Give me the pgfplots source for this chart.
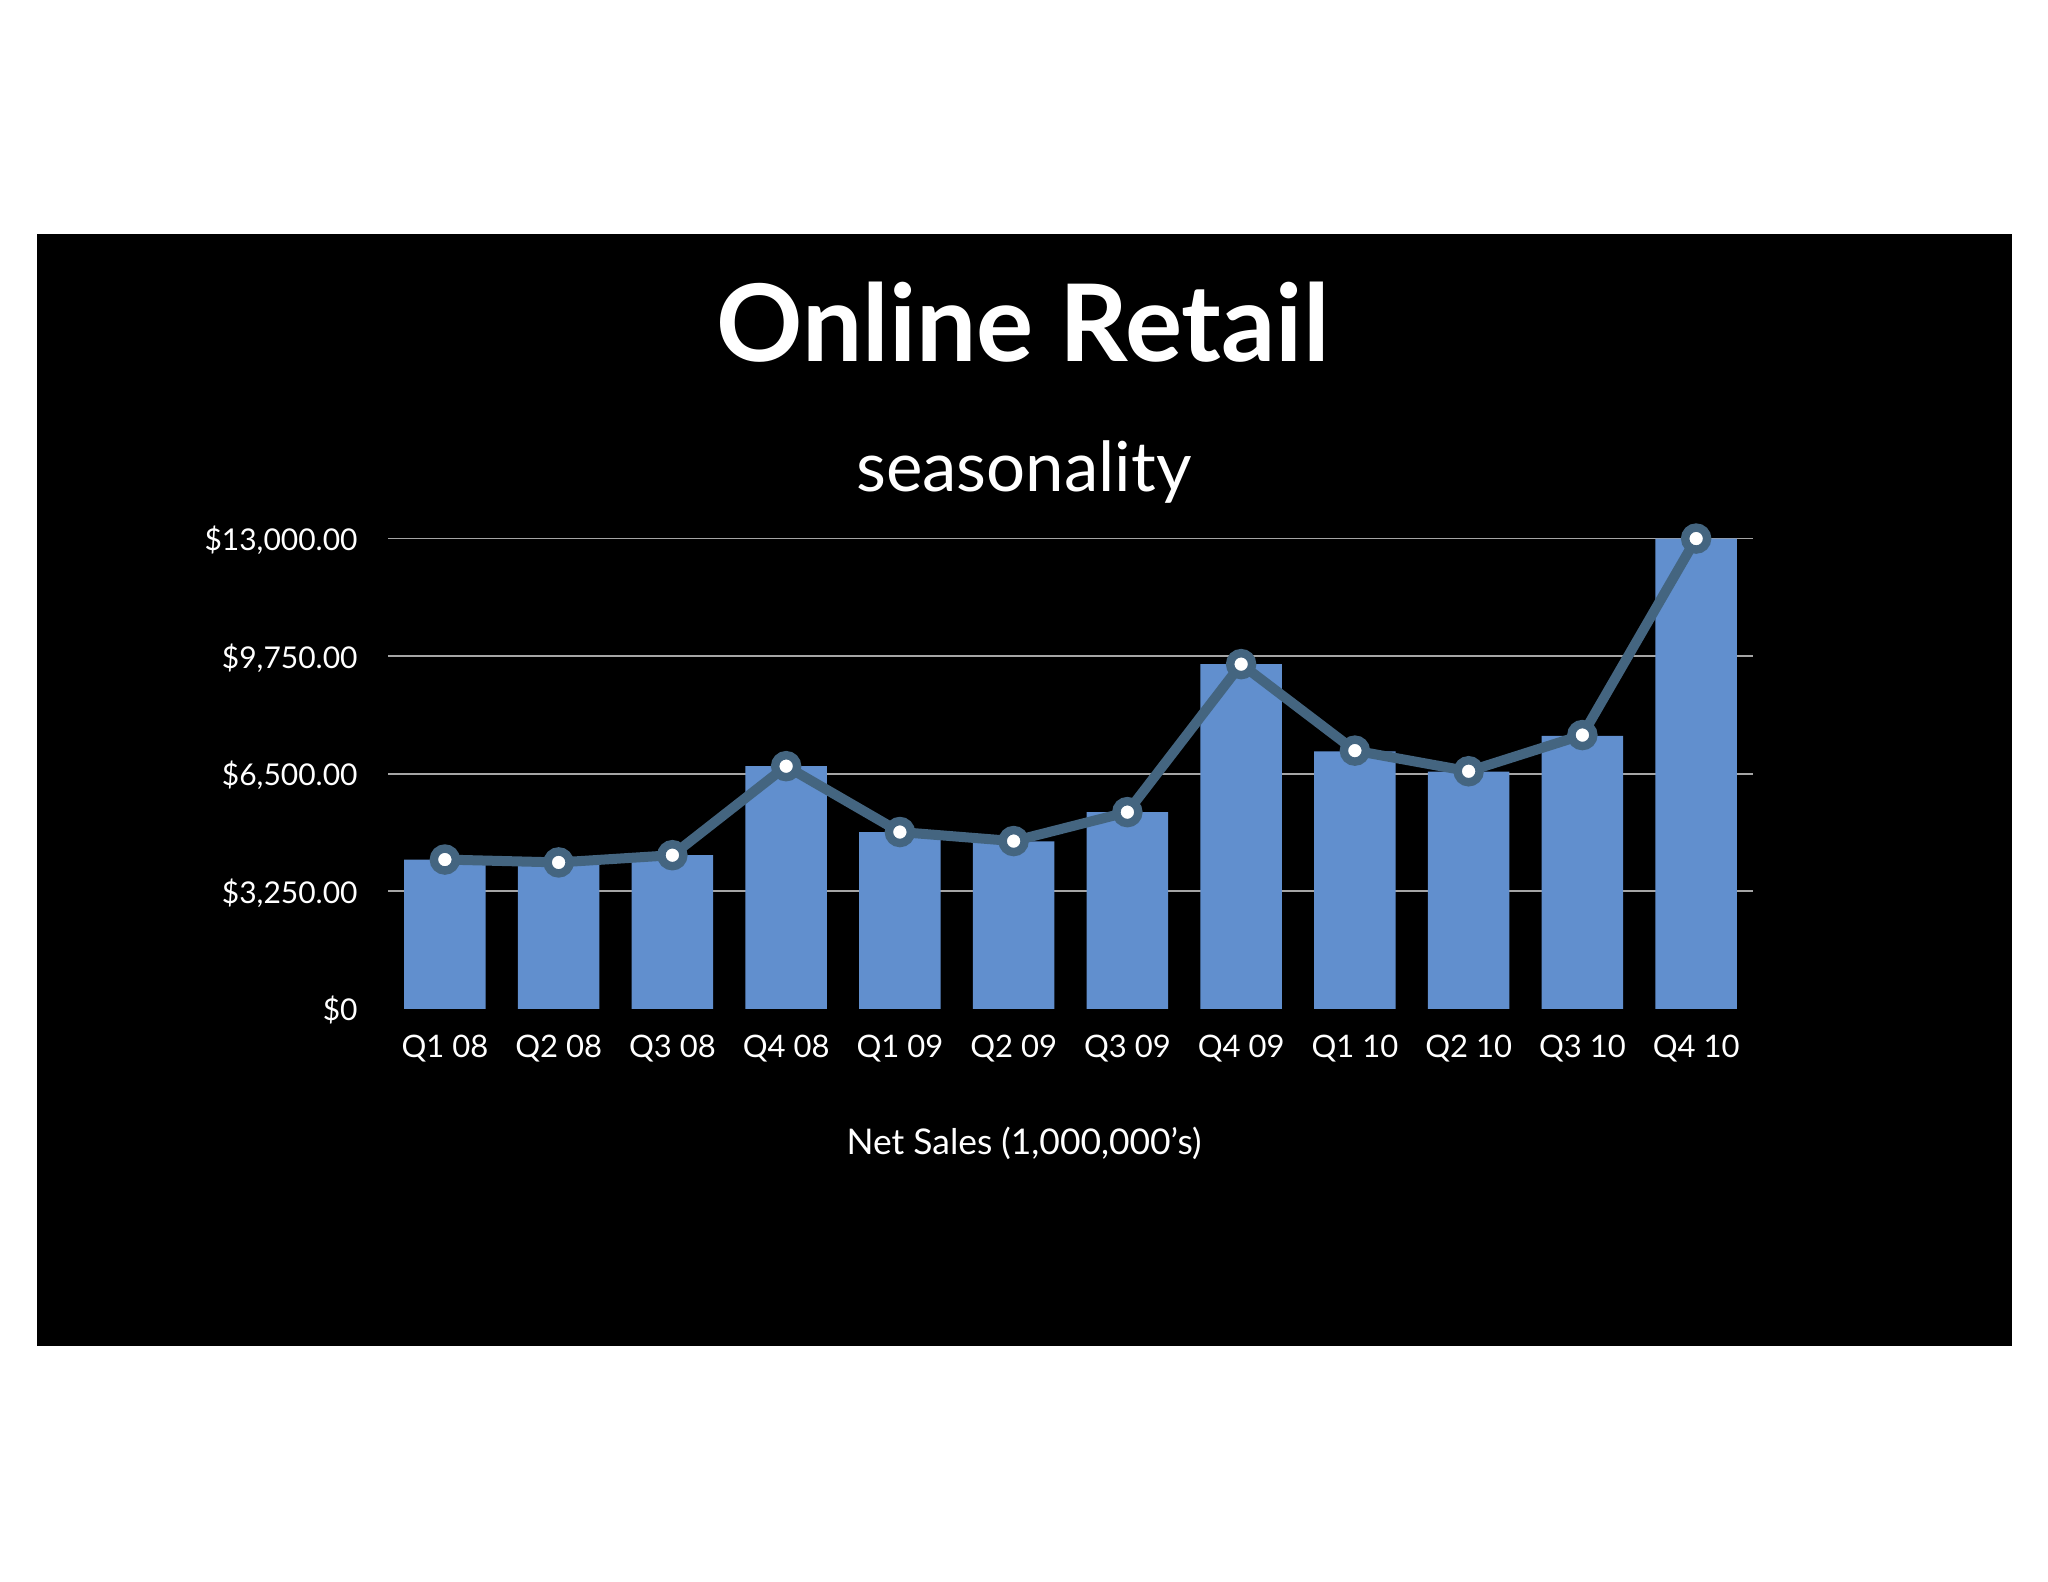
\documentclass[border=0pt]{standalone}
\usepackage{fontspec}
\setmainfont{Lato}
\usepackage{pgfplots}
\pgfplotsset{compat=1.18}
\definecolor{barblue}{RGB}{97,143,206}
\definecolor{lineslate}{RGB}{68,101,128}
\definecolor{gridgray}{RGB}{165,165,165}

\begin{document}
\begin{tikzpicture}[x=1pt,y=1pt]
\fill[white] (0,0) rectangle (1024,791);
\fill[black] (18.25,118) rectangle (1005.75,674);
\node[anchor=base, text=white, inner sep=0pt, font=\fontsize{53.5}{60}\selectfont\bfseries] at (511.5,610) {Online Retail};
\node[anchor=base, text=white, inner sep=0pt, font=\fontsize{34.5}{40}\selectfont] at (512,545) {seasonality};
\node[anchor=base, text=white, inner sep=0pt, font=\fontsize{17.7}{20}\selectfont] at (512,213.5) {Net Sales (1,000,000's)};
\begin{axis}[
  at={(194pt,286.5pt)}, anchor=south west,
  scale only axis, width=682.5pt, height=235.2pt,
  xmin=-0.5, xmax=11.5, ymin=0, ymax=13000,
  scaled y ticks=false,
  axis line style={draw=none}, tick style={draw=none},
  major tick length=0pt,
  xtick={0,...,11},
  xticklabels={Q1 08,Q2 08,Q3 08,Q4 08,Q1 09,Q2 09,Q3 09,Q4 09,Q1 10,Q2 10,Q3 10,Q4 10},
  ytick={0,3250,6500,9750,13000},
  yticklabels={{\$0},{\$3,250.00},{\$6,500.00},{\$9,750.00},{\$13,000.00}},
  extra y ticks={3250,6500,9750,13000},
  extra y tick labels={},
  extra y tick style={grid=major},
  major grid style={gridgray, line width=0.9pt},
  ticklabel style={text=white, font=\fontsize{15.5}{18}\selectfont},
  xticklabel style={anchor=base, yshift=-24.5pt, inner sep=0pt},
  yticklabel style={anchor=base east, xshift=-15pt, yshift=-6pt, inner sep=0pt, font=\fontsize{15}{18}\selectfont},
  clip=false,
]
\addplot[ybar, bar width=40.75pt, fill=barblue, draw=none] coordinates {
  (0,4130) (1,4020) (2,4250) (3,6710) (4,4890) (5,4630)
  (6,5440) (7,9530) (8,7120) (9,6560) (10,7550) (11,13000)
};
\addplot[lineslate, line width=5pt, mark=*, mark size=5.5pt,
  mark options={fill=white, draw=lineslate, line width=4.2pt}] coordinates {
  (0,4130) (1,4050) (2,4250) (3,6710) (4,4890) (5,4640)
  (6,5440) (7,9530) (8,7140) (9,6570) (10,7570) (11,13000)
};
\end{axis}
\end{tikzpicture}
\end{document}
